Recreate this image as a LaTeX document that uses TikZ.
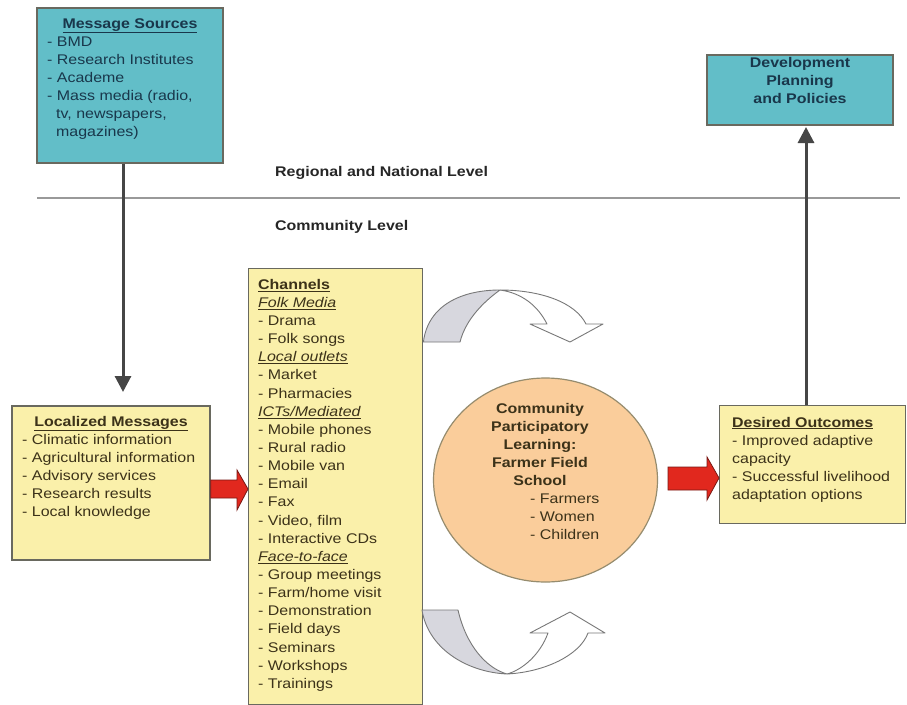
\documentclass[tikz,border=0pt]{standalone}
\usepackage{fontspec}
\setmainfont[FakeStretch=1.14]{Liberation Sans}
\usetikzlibrary{arrows.meta,calc,shapes.geometric}
\definecolor{tealfill}{RGB}{98,190,200}
\definecolor{tealtext}{RGB}{25,55,75}
\definecolor{yelfill}{RGB}{250,240,170}
\definecolor{yeltext}{RGB}{60,50,25}
\definecolor{peach}{RGB}{250,205,155}
\definecolor{peachedge}{RGB}{150,140,110}
\definecolor{boxedge}{RGB}{105,105,95}
\definecolor{redarrow}{RGB}{225,40,30}
\definecolor{rededge}{RGB}{120,25,20}
\definecolor{grayarrow}{RGB}{70,70,70}
\definecolor{ucurve}{RGB}{120,120,120}
\definecolor{ugray}{RGB}{215,215,222}
\newcommand{\fst}{\rule{0pt}{12pt}}
\begin{document}
\begin{tikzpicture}[x=1pt,y=-1pt,
  tealbox/.style={draw=boxedge,line width=1.4pt,fill=tealfill,inner sep=0pt},
  yelbox/.style={draw=boxedge,line width=1.4pt,fill=yelfill,inner sep=0pt},
  tx/.style={inner sep=0pt,font=\fontsize{14}{18}\selectfont},
  lvl/.style={inner sep=0pt,anchor=base west,text=black!85,font=\bfseries\fontsize{14}{16}\selectfont},
  gline/.style={draw=grayarrow,line width=3pt,-{Triangle[length=16pt,width=16pt]}},
  redarr/.style={fill=redarrow,draw=rededge,line width=0.8pt},
  ushape/.style={draw=ucurve,line width=0.9pt,line join=round}]
\useasboundingbox (0,0) rectangle (907,704);
\fill[white] (0,0) rectangle (907,704);

% separator line and level labels
\coordinate (sepL) at (37,198);
\coordinate (sepR) at (900,198);
\draw[draw=black!40,line width=1.2pt] (sepL) -- (sepR);
\node[lvl] (reg) at (275,176) {Regional and National Level};
\node[lvl] (com) at (275,230) {Community Level};

% Message sources
\node[tealbox,minimum width=186,minimum height=155] (msrc) at (130,85.5) {};
\node[tx,anchor=base,text=tealtext] (msrcT) at (130,28) {\bfseries\underline{Message Sources}};
\node[tx,anchor=north west,align=left,text=tealtext] (msrcL) at (47,34) {\fst- BMD\\- Research Institutes\\- Academe\\- Mass media (radio,\\\hspace*{9pt}tv, newspapers,\\\hspace*{9pt}magazines)};

% Development planning
\node[tealbox,minimum width=186,minimum height=70] (dev) at (800,90) {};
\node[tx,anchor=north,align=center,text=tealtext,font=\bfseries\fontsize{14}{18}\selectfont] (devT) at (800,55) {\fst Development\\Planning\\and Policies};

% Localized messages
\node[yelbox,minimum width=198,minimum height=154] (loc) at (111,483) {};
\node[tx,anchor=base,text=yeltext] (locT) at (111,426) {\bfseries\underline{Localized Messages}};
\node[tx,anchor=north west,align=left,text=yeltext] (locL) at (22,432) {\fst- Climatic information\\- Agricultural information\\- Advisory services\\- Research results\\- Local knowledge};

% Channels
\node[yelbox,minimum width=174,minimum height=436,anchor=north west] (chan) at (248,268) {};
\node[tx,anchor=north west,align=left,text=yeltext,font=\fontsize{14}{18.14}\selectfont] (chanL) at (258,277) {\fst\textbf{\underline{Channels}}\\\underline{\textit{Folk Media}}\\- Drama\\- Folk songs\\\underline{\textit{Local outlets}}\\- Market\\- Pharmacies\\\underline{\textit{ICTs/Mediated}}\\- Mobile phones\\- Rural radio\\- Mobile van\\- Email\\- Fax\\- Video, film\\- Interactive CDs\\\underline{\textit{Face-to-face}}\\- Group meetings\\- Farm/home visit\\- Demonstration\\- Field days\\- Seminars\\- Workshops\\- Trainings};

% Community participatory learning
\node[ellipse,draw=peachedge,line width=1.2pt,fill=peach,inner sep=0pt,minimum width=224,minimum height=204] (cpl) at (545.5,480) {};
\node[tx,anchor=north,align=center,text=yeltext,font=\bfseries\fontsize{14}{18.1}\selectfont] (cplT) at (540,401) {\fst Community\\Participatory\\Learning:\\Farmer Field\\School};
\node[tx,anchor=north west,align=left,text=yeltext,font=\fontsize{14}{18.1}\selectfont] (cplL) at (530,491.5) {\fst- Farmers\\- Women\\- Children};

% Desired outcomes
\node[yelbox,minimum width=186,minimum height=118,anchor=north west] (out) at (719,405) {};
\node[tx,anchor=base west,text=yeltext] (outT) at (732,427) {\bfseries\underline{Desired Outcomes}};
\node[tx,anchor=north west,align=left,text=yeltext] (outL) at (732,433) {\fst- Improved adaptive\\capacity\\- Successful livelihood\\adaptation options};

% gray arrows
\coordinate (a1) at (123,392);
\draw[gline] (msrc.south -| a1) -- (a1);
\coordinate (a2) at (806,127);
\draw[gline] (out.north -| a2) -- (a2);

% red block arrows
\draw[redarr] (loc.east |- 0,480) -- (237,480) -- (237,470) -- (chan.west |- 0,489) -- (237,510) -- (237,498) -- (loc.east |- 0,498) -- cycle;
\coordinate (r2s) at (668,467);
\draw[redarr] (r2s) -- (707,467) -- (707,457) -- (out.west |- 0,478) -- (707,500) -- (707,490) -- (668,490) -- cycle;

% top U-turn arrow
\draw[ushape,fill=ugray] (chan.east |- 0,342) .. controls (428,305) and (462,290) .. (500,290)
   .. controls (486,300) and (466,318) .. (460,342) -- cycle;
\draw[ushape,fill=white] (500,290) .. controls (540,290) and (575,302) .. (586,324)
   -- (603,324) -- (570,342) -- (530,324) -- (547,324)
   .. controls (538,306) and (522,293) .. (500,290);
% bottom U-turn arrow
\draw[ushape,fill=ugray] (chan.east |- 0,610) -- (458,610) .. controls (466,645) and (486,668) .. (507,674)
   .. controls (466,672) and (428,648) .. (422,610) -- cycle;
\draw[ushape,fill=white] (507,674) .. controls (545,672) and (580,655) .. (588,633)
   -- (605,633) -- (570,612) -- (530,633) -- (548,633)
   .. controls (540,655) and (522,670) .. (507,674);
\end{tikzpicture}
\end{document}
